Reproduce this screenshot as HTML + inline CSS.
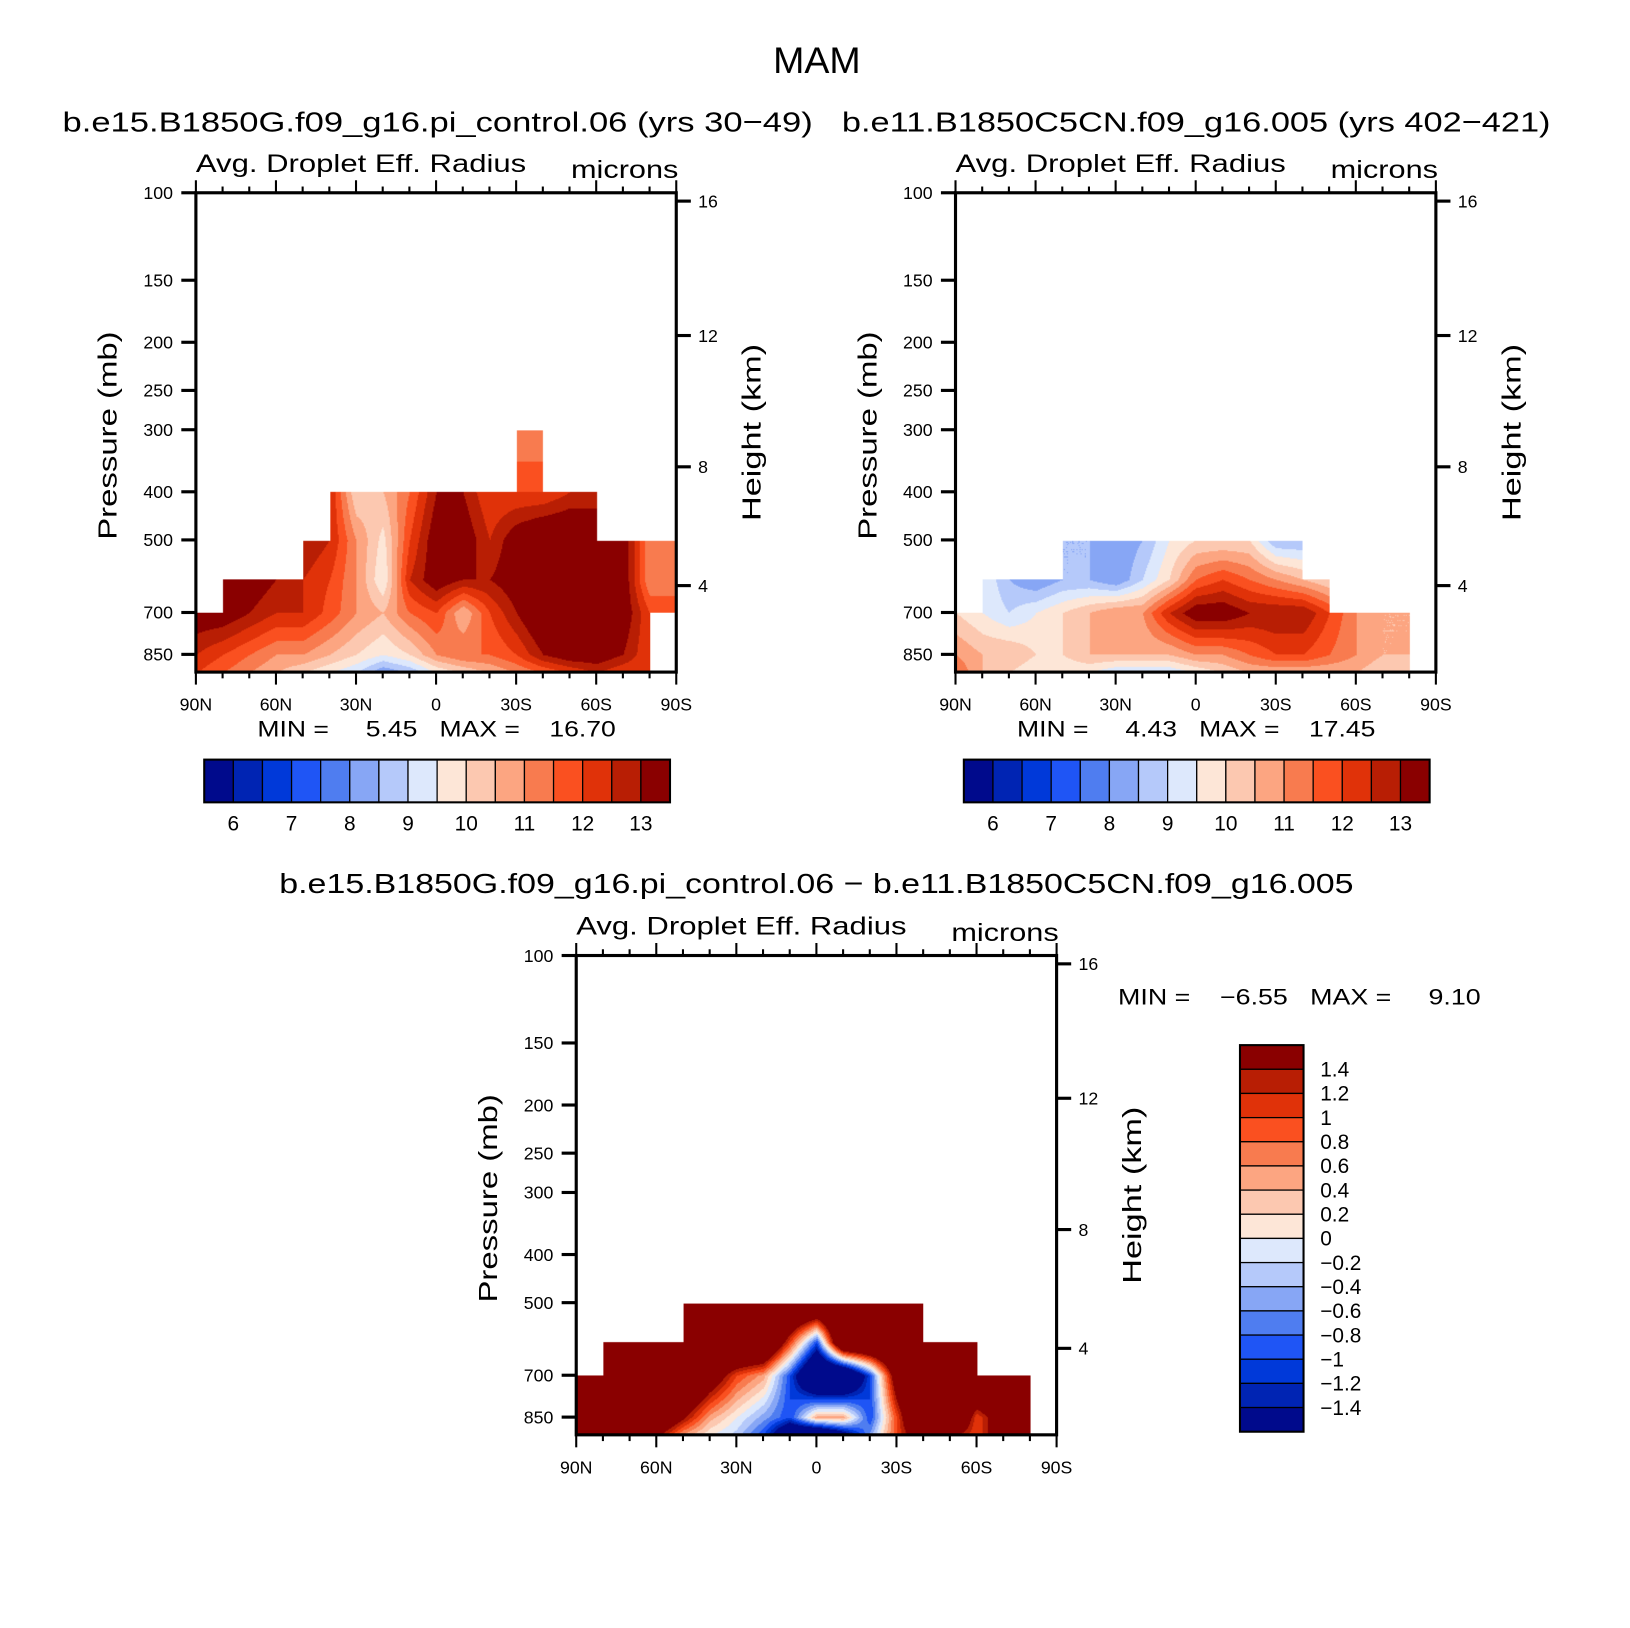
<!DOCTYPE html>
<html><head><meta charset="utf-8"><style>
body{margin:0;width:1630px;height:1627px;background:#fff;position:relative;overflow:hidden;font-family:"Liberation Sans",sans-serif}
#root{position:absolute;left:0;top:0;width:1565px;height:1562px;transform:scale(1.042);transform-origin:0 0}
canvas{position:absolute}
svg{position:absolute;left:0;top:0}
</style></head><body>
<div id="root">
<canvas id="c1" width="461" height="460" style="left:188px;top:185px"></canvas>
<canvas id="c2" width="461" height="460" style="left:917px;top:185px"></canvas>
<canvas id="c3" width="461" height="460" style="left:553px;top:917px"></canvas>
<svg id="s" width="1565" height="1562"></svg>
</div>
<script>
const N=NaN;
const lats=[90,80,70,60,50,40,30,20,10,0,-10,-20,-30,-40,-50,-60,-70,-80,-90];
const pres=[300,400,500,600,700,850,925];
const field1=[
[N,N,N,N,N,N,N,N,N,N,N,N,11,11,N,N,N,N,N],
[N,N,N,N,N,12.5,10,10.5,11.5,13,13,12,12,12,12.5,12.5,N,N,N],
[N,N,N,N,13,12.5,11,9.8,12,13.5,13.5,12.5,13.5,14,14,14,13.5,11,11.5],
[N,14,13.5,13,12.5,12,11,9.5,12.5,13.5,13,13,13.5,14,14,14,13.5,11,11],
[13.5,13.5,13,12.5,12.5,11.8,11,10.5,11.5,12,10.5,12,13,14,14,14,13.5,12,12],
[12.5,12,11.5,11,11,10.5,10,9.5,10,11,11.5,11.5,12,13,13.5,13.5,13,12,N],
[12,11.5,11,10.5,10,9.5,9,8,8.5,9.5,10,10.5,11,11.5,12,12.5,12,12,N]];
const field2=[
[N,N,N,N,N,N,N,N,N,N,N,N,N,N,N,N,N,N,N],
[N,N,N,N,N,N,N,N,N,N,N,N,N,N,N,N,N,N,N],
[N,N,N,N,8.5,8.5,8,8.5,9.5,10,10,10,8.5,8.5,N,N,N,N,N],
[N,9.5,8.5,8,8.5,8.5,8,9,10,11.5,12,11.5,11,10.5,10,N,N,N,N],
[10,9.5,9,9.5,10,10.5,11,11,12.5,13.5,13.5,13,13,13,12,11,10.5,10.5,N],
[11,10.5,10.5,10,10,10.5,10.5,10.5,10.5,11,11,11.5,12,12,11.5,11,10.5,10.5,N],
[11.5,10.5,10,9.5,9.5,9.5,9,9,9,9.5,10,10.5,10.5,10.5,10.5,10.5,10,10,N]];
const field3=[
[N,N,N,N,N,N,N,N,N,N,N,N,N,N,N,N,N,N,N],
[N,N,N,N,N,N,N,N,N,N,N,N,N,N,N,N,N,N,N],
[N,N,N,N,3,3,3,3,3,3,3,3,3,3,N,N,N,N,N],
[N,3,3,3,3,3,3,3,1,-1,3,3,3,3,3,3,N,N,N],
[3,3,3,3,3,2,1,0.5,-1,-3,-3,-1,2,3,3,3,3,3,N],
[3,3,3,2.5,1.5,0.5,0,-0.5,-1,0.5,0.5,-1,1,3,3,1,2,3,N],
[3,3,2.5,1.5,0.5,0,-0.3,-1,-2.5,-3,-2,-0.5,1,2,1.5,1,2,3,N]];
const levels1=[6,6.5,7,7.5,8,8.5,9,9.5,10,10.5,11,11.5,12,12.5,13];
const levels3=[-1.4,-1.2,-1,-0.8,-0.6,-0.4,-0.2,0,0.2,0.4,0.6,0.8,1,1.2,1.4];
const cbLabels1=["6","7","8","9","10","11","12","13"];
const cbLabels3=["1.4","1.2","1","0.8","0.6","0.4","0.2","0","\u22120.2","\u22120.4","\u22120.6","\u22120.8","\u22121","\u22121.2","\u22121.4"];
const colors=["#000a8c","#0024b3","#0039d9","#1f55f5","#4f7df0","#87a6f5","#b5c9fa","#dde8fc","#fde6d7","#fcc8b0","#fca581","#f87b4f","#fa5020","#e03209","#b81e04","#8a0000"];
const rgb=colors.map(c=>[parseInt(c.substr(1,2),16),parseInt(c.substr(3,2),16),parseInt(c.substr(5,2),16)]);
const K=207;
function yOfP(p){return K*Math.log(p/100);}
function draw(id,field,lv){
  const cv=document.getElementById(id),ctx=cv.getContext('2d');
  const im=ctx.createImageData(461,460),d=im.data;
  const lp=pres.map(p=>Math.log(p));
  for(let y=0;y<460;y++){
    const l=Math.log(100)+y/K;let r=-1;
    for(let i=0;i<pres.length-1;i++)if(l>=lp[i]&&l<=lp[i+1]){r=i;break;}
    if(l>lp[lp.length-1])r=pres.length-2;
    if(r<0)continue;
    const ty=Math.min(1,(l-lp[r])/(lp[r+1]-lp[r]));
    for(let x=0;x<461;x++){
      const lat=90-180*x/461;
      let c=Math.min(17,Math.floor((90-lat)/10));const tx=(90-lat)/10-c;
      const a=field[r][c],b=field[r][c+1],e=field[r+1][c],f=field[r+1][c+1];
      if(isNaN(a)||isNaN(b)||isNaN(e)||isNaN(f))continue;
      const v=a*(1-tx)*(1-ty)+b*tx*(1-ty)+e*(1-tx)*ty+f*tx*ty;
      let k=0;while(k<lv.length&&v>=lv[k])k++;
      k=Math.min(k,rgb.length-1);
      const col=rgb[k],o=(y*461+x)*4;
      d[o]=col[0];d[o+1]=col[1];d[o+2]=col[2];d[o+3]=255;
    }
  }
  ctx.putImageData(im,0,0);
}
draw('c1',field1,levels1);draw('c2',field2,levels1);draw('c3',field3,levels3);

const S=document.getElementById('s');const NS='http://www.w3.org/2000/svg';
function el(t,at,txt){const e=document.createElementNS(NS,t);for(const k in at)e.setAttribute(k,at[k]);if(txt!==undefined)e.textContent=txt;S.appendChild(e);return e;}
function T(x,y,s,txt,name,anchor,extra){const e=el('text',Object.assign({x:x,y:y,'font-size':s,'text-anchor':anchor||'start','font-family':'Liberation Sans, sans-serif'},extra||{}),txt);

return e;}
const fit=w=>({textLength:w,lengthAdjust:'spacingAndGlyphs'});
T(784,70,36,'MAM','main-title','middle');
const pTicks=[100,150,200,250,300,400,500,700,850];
const hTicks=[[16,8],[12,137],[8,263],[4,377]];
const xLabs=["90N","60N","30N","0","30S","60S","90S"];
function axes(ox,oy,name){
  const g=el('rect',{x:ox,y:oy,width:461,height:460,fill:'none',stroke:'#000','stroke-width':3});
  
  
  pTicks.forEach(p=>{const y=oy+yOfP(p);el('line',{x1:ox-14,x2:ox,y1:y,y2:y,stroke:'#000','stroke-width':3});
    T(ox-22,y+6,17,String(p),name+'-pressure-tick','end');});
  hTicks.forEach(h=>{const y=oy+h[1];el('line',{x1:ox+461,x2:ox+475,y1:y,y2:y,stroke:'#000','stroke-width':3});
    T(ox+482,y+6,17,String(h[0]),name+'-height-tick','start');});
  for(let i=0;i<=18;i++){const x=ox+461*i/18,L=i%3==0?12:6;
    el('line',{x1:x,x2:x,y1:oy+460,y2:oy+460+L,stroke:'#000','stroke-width':2});
    el('line',{x1:x,x2:x,y1:oy,y2:oy-L,stroke:'#000','stroke-width':2});}
  xLabs.forEach((s,i)=>T(ox+461*i/6,oy+497,17,s,name+'-lat-tick','middle'));
  T(ox,oy-20,24,'Avg. Droplet Eff. Radius',name+'-variable-label','start',fit(317));
  T(ox+360,oy-14,24,'microns',name+'-units-label','start',fit(103));
  T(ox-76,oy+233,25,'Pressure (mb)',name+'-y-axis-title','middle',Object.assign({transform:`rotate(-90 ${ox-76} ${oy+233})`},fit(200)));
  T(ox+542,oy+230,25,'Height (km)',name+'-right-axis-title','middle',Object.assign({transform:`rotate(-90 ${ox+542} ${oy+230})`},fit(170)));
}
axes(188,185,'panel1');axes(917,185,'panel2');axes(553,917,'diff');
T(60,126,27,'b.e15.B1850G.f09_g16.pi_control.06 (yrs 30\u221249)','panel1-title','start',fit(720));
T(808,126,27,'b.e11.B1850C5CN.f09_g16.005 (yrs 402\u2212421)','panel2-title','start',fit(680));
T(268,857,27,'b.e15.B1850G.f09_g16.pi_control.06 \u2212 b.e11.B1850C5CN.f09_g16.005','diff-title','start',fit(1031));
T(247,707,21,'MIN =     5.45   MAX =    16.70','panel1-minmax','start',Object.assign({'style':'white-space:pre'},fit(344)));
T(976,707,21,'MIN =     4.43   MAX =    17.45','panel2-minmax','start',Object.assign({'style':'white-space:pre'},fit(344)));
T(1073,964,21,'MIN =    \u22126.55   MAX =     9.10','diff-minmax','start',Object.assign({'style':'white-space:pre'},fit(348)));
function hbar(x0,y0,name){const w=447/16;
  colors.forEach((c,i)=>{const r=el('rect',{x:x0+i*w,y:y0,width:w,height:41,fill:c,stroke:'#000','stroke-width':1.2});
    
    });
  el('rect',{x:x0,y:y0,width:447,height:41,fill:'none',stroke:'#000','stroke-width':2});
  cbLabels1.forEach((s,i)=>T(x0+w*(1+2*i),y0+68,20,s,name+'-label','middle'));}
hbar(196,729,'colorbar1');hbar(925,729,'colorbar2');
(function(){const x0=1190,y0=1003,h=371/16;
  for(let i=0;i<16;i++){const r=el('rect',{x:x0,y:y0+i*h,width:61,height:h,fill:colors[15-i],stroke:'#000','stroke-width':1.2});
    
    }
  el('rect',{x:x0,y:y0,width:61,height:371,fill:'none',stroke:'#000','stroke-width':2});
  cbLabels3.forEach((s,i)=>T(x0+77,y0+h*(i+1)+7,20,s,'diff-colorbar-label','start'));})();
</script>
</body></html>
